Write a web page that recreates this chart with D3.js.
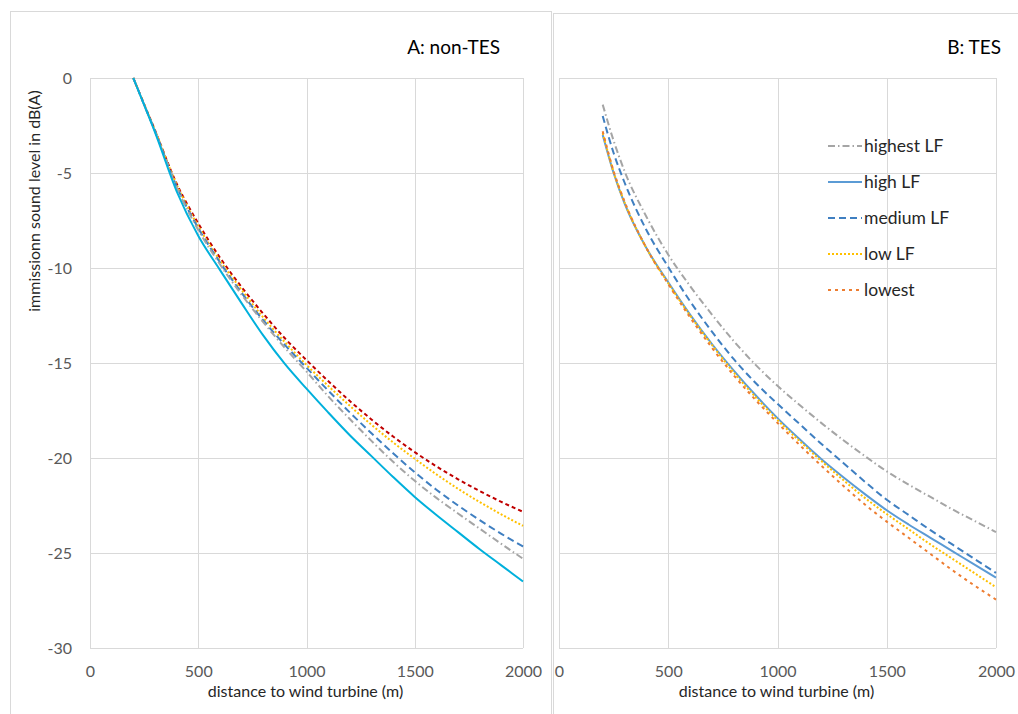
<!DOCTYPE html>
<html>
<head>
<meta charset="utf-8">
<script src="https://cdn.jsdelivr.net/npm/d3@7"></script>
<style>
  html, body { margin: 0; padding: 0; background: #ffffff; }
  svg { display: block; }
  text { font-family: Lato, "Open Sans", "Liberation Sans", sans-serif; }
</style>
</head>
<body>
<svg id="chart" width="1018" height="714"></svg>
<script>
// ---------------- data ----------------
const distances = [200, 250, 300, 400, 500, 600, 700, 800, 900, 1000, 1100, 1200, 1300, 1400, 1500, 1600, 1700, 1800, 1900, 2000];

// Panel A: non-TES
const aRed    = [0, -1.38, -2.75, -5.55, -7.65, -9.45, -11.0, -12.4, -13.7, -14.85, -15.95, -17.0, -17.97, -18.87, -19.69, -20.44, -21.12, -21.74, -22.31, -22.83];
const aYellow = [0, -1.38, -2.75, -5.6, -7.8, -9.6, -11.15, -12.6, -13.9, -15.1, -16.2, -17.25, -18.25, -19.18, -20.04, -20.86, -21.62, -22.32, -22.97, -23.57];
const aBlue   = [0, -1.4, -2.78, -5.7, -7.9, -9.7, -11.3, -12.75, -14.05, -15.25, -16.45, -17.6, -18.7, -19.75, -20.75, -21.67, -22.5, -23.27, -23.99, -24.66];
const aGray   = [0, -1.4, -2.8, -5.75, -8.0, -9.8, -11.4, -12.85, -14.2, -15.45, -16.75, -17.95, -19.1, -20.2, -21.2, -22.1, -22.92, -23.72, -24.52, -25.3];
const aCyan   = [0, -1.42, -2.85, -5.95, -8.3, -10.1, -11.85, -13.55, -15.05, -16.35, -17.6, -18.8, -19.9, -21.0, -22.05, -23.0, -23.9, -24.8, -25.65, -26.5];

// Panel B: TES
const bHighest = [-1.4, -3.3, -4.9, -7.3, -9.3, -10.95, -12.45, -13.85, -15.1, -16.2, -17.2, -18.15, -19.05, -19.9, -20.7, -21.4, -22.05, -22.7, -23.3, -23.9];
const bHigh    = [-3.0, -5.0, -6.6, -8.95, -10.75, -12.45, -14.0, -15.4, -16.7, -17.9, -19.0, -20.05, -21.0, -21.9, -22.75, -23.5, -24.2, -24.9, -25.6, -26.3];
const bMedium  = [-2.0, -3.95, -5.5, -8.0, -9.95, -11.75, -13.35, -14.8, -16.05, -17.15, -18.2, -19.25, -20.25, -21.25, -22.2, -23.0, -23.8, -24.55, -25.3, -26.05];
const bLow     = [-2.9, -4.95, -6.55, -8.95, -10.8, -12.5, -14.05, -15.5, -16.8, -18.0, -19.1, -20.15, -21.15, -22.1, -22.95, -23.75, -24.55, -25.3, -26.05, -26.8];
const bLowest  = [-2.8, -4.9, -6.5, -8.95, -10.85, -12.6, -14.2, -15.65, -16.95, -18.15, -19.3, -20.4, -21.45, -22.45, -23.35, -24.2, -25.05, -25.9, -26.7, -27.45];

const legendLabels = ["highest LF", "high LF", "medium LF", "low LF", "lowest"];
const xTicks = [0, 500, 1000, 1500, 2000];
const yTicks = [0, -5, -10, -15, -20, -25, -30];
const panelTitles = ["A: non-TES", "B: TES"];
const yTitle = "immissionn sound level in dB(A)";
const xTitle = "distance to wind turbine (m)";

// ---------------- styles ----------------
const styleA = [
  { values: aRed,    color: "#C00000", dash: "4,3",       width: 2 },
  { values: aYellow, color: "#FFC000", dash: "2,2",       width: 2 },
  { values: aBlue,   color: "#3F7FC1", dash: "7,4",       width: 2 },
  { values: aGray,   color: "#A5A5A5", dash: "7,3,1.5,3", width: 2 },
  { values: aCyan,   color: "#00B0DC", dash: null,        width: 2 }
];
const styleB = [
  { values: bHighest, color: "#A5A5A5", dash: "7,3,1.5,3", width: 2 },
  { values: bHigh,    color: "#5B9BD5", dash: null,        width: 2 },
  { values: bMedium,  color: "#3F7FC1", dash: "7,4",       width: 2 },
  { values: bLow,     color: "#FFC000", dash: "2,2",       width: 2 },
  { values: bLowest,  color: "#ED7D31", dash: "3,4",       width: 2 }
];

const svg = d3.select("#chart");
const gridColor = "#D9D9D9";
const tickColor = "#595959";

// panel frames
svg.append("rect").attr("x", 10.5).attr("y", 11.5).attr("width", 541).attr("height", 720)
  .attr("fill", "none").attr("stroke", "#D9D9D9");
svg.append("rect").attr("x", 553.5).attr("y", 13.5).attr("width", 480).attr("height", 720)
  .attr("fill", "none").attr("stroke", "#D9D9D9");

const y = d3.scaleLinear().domain([-30, 0]).range([648, 78]);
const xA = d3.scaleLinear().domain([0, 2000]).range([90, 523]);
const xB = d3.scaleLinear().domain([0, 2000]).range([559, 996]);

function drawPanel(x, series, title, titleRight, showY) {
  const g = svg.append("g");
  // gridlines
  g.selectAll(".hg").data(yTicks).enter().append("line")
    .attr("x1", x.range()[0]).attr("x2", x.range()[1])
    .attr("y1", d => Math.round(y(d)) + 0.5).attr("y2", d => Math.round(y(d)) + 0.5)
    .attr("stroke", gridColor).attr("stroke-width", 1);
  g.selectAll(".vg").data(xTicks).enter().append("line")
    .attr("x1", d => Math.round(x(d)) + 0.5).attr("x2", d => Math.round(x(d)) + 0.5)
    .attr("y1", y.range()[1]).attr("y2", y.range()[0])
    .attr("stroke", gridColor).attr("stroke-width", 1);

  // x axis labels
  const xa = g.append("g").attr("transform", `translate(0,${y.range()[0]})`)
    .call(d3.axisBottom(x).tickValues(xTicks).tickSize(0).tickPadding(18).tickFormat(d => String(d)));
  xa.select(".domain").remove();
  xa.selectAll("text").attr("fill", tickColor).style("font-size", "16px");

  if (showY) {
    const ya = g.append("g").attr("transform", `translate(${x.range()[0]},0)`)
      .call(d3.axisLeft(y).tickValues(yTicks).tickSize(0).tickPadding(18).tickFormat(d => String(d)));
    ya.select(".domain").remove();
    ya.selectAll("text").attr("fill", tickColor).style("font-size", "16px");
  }

  const line = d3.line()
    .x((d, i) => x(distances[i]))
    .y(d => y(d))
    .curve(d3.curveMonotoneX);

  series.forEach(s => {
    g.append("path")
      .datum(s.values)
      .attr("d", line)
      .attr("fill", "none")
      .attr("stroke", s.color)
      .attr("stroke-width", s.width)
      .attr("stroke-dasharray", s.dash)
      .attr("stroke-linejoin", "round");
  });

  // title
  g.append("text").attr("x", titleRight).attr("y", 54)
    .attr("text-anchor", "end").attr("fill", "#000")
    .style("font-size", "19px").text(title);

  // x title
  g.append("text").attr("x", (x.range()[0] + x.range()[1]) / 2 - 1).attr("y", 697)
    .attr("text-anchor", "middle").attr("fill", "#262626")
    .style("font-size", "16px").text(xTitle);
  return g;
}

drawPanel(xA, styleA, panelTitles[0], 500, true);
drawPanel(xB, styleB, panelTitles[1], 1001, false);

// y axis title
svg.append("text")
  .attr("transform", "translate(40,201) rotate(-90)")
  .attr("text-anchor", "middle").attr("fill", "#262626")
  .style("font-size", "16px").text(yTitle);

// legend in panel B
const legRowY = [146, 182, 218, 254, 290];
const leg = svg.append("g");
styleB.forEach((s, i) => {
  leg.append("line")
    .attr("x1", 828).attr("x2", 862)
    .attr("y1", legRowY[i]).attr("y2", legRowY[i])
    .attr("stroke", s.color).attr("stroke-width", 2)
    .attr("stroke-dasharray", s.dash);
  leg.append("text")
    .attr("x", 864).attr("y", legRowY[i]).attr("dy", "0.35em")
    .attr("fill", "#262626").style("font-size", "17.5px")
    .text(legendLabels[i]);
});
</script>
</body>
</html>
